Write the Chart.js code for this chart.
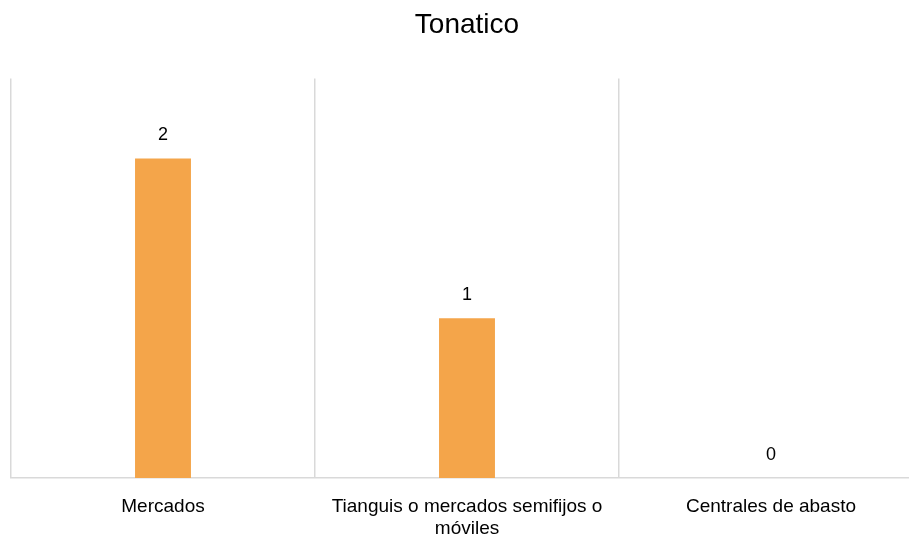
<!DOCTYPE html>
<html>
<head>
<meta charset="utf-8">
<script src="https://cdn.jsdelivr.net/npm/chart.js@4"></script>
<style>
html,body{margin:0;padding:0;overflow:hidden;background:#fff;width:909px;height:542px;}
#wrap{width:932px;height:560px;}
</style>
</head>
<body>
<div id="wrap"><canvas id="c" width="932" height="560"></canvas></div>
<script>
const titleText = "Tonatico";
const categories = [["Mercados"], ["Tianguis o mercados semifijos o", "móviles"], ["Centrales de abasto"]];
const values = [2, 1, 0];
const yMax = 2.5;

const valueLabels = {
  id: 'valueLabels',
  afterDatasetsDraw(chart) {
    const ctx = chart.ctx;
    const meta = chart.getDatasetMeta(0);
    ctx.save();
    ctx.font = '18px "Liberation Sans", Arial, sans-serif';
    ctx.fillStyle = '#000';
    ctx.textAlign = 'center';
    ctx.textBaseline = 'middle';
    meta.data.forEach((bar, i) => {
      ctx.fillText(String(values[i]), bar.x, bar.y - 23);
    });
    ctx.restore();
  }
};

new Chart(document.getElementById('c'), {
  type: 'bar',
  data: {
    labels: categories,
    datasets: [{
      data: values,
      backgroundColor: '#F4A54A',
      borderWidth: 0,
      barPercentage: 0.184,
      categoryPercentage: 1
    }]
  },
  options: {
    responsive: false,
    animation: false,
    layout: { padding: { left: 11, right: 9, top: 0, bottom: 2 } },
    plugins: {
      legend: { display: false },
      tooltip: { enabled: false },
      title: {
        display: true,
        text: titleText,
        color: '#000',
        font: { family: '"Liberation Sans", Arial, sans-serif', size: 28, weight: 'normal', lineHeight: 1.2 },
        padding: { top: 8, bottom: 37 }
      }
    },
    scales: {
      x: {
        grid: { display: true, offset: true, color: '#d9d9d9', lineWidth: 1.5, drawTicks: false },
        border: { display: true, color: '#d9d9d9', width: 1.5 },
        ticks: {
          color: '#000',
          padding: 18,
          maxRotation: 0,
          autoSkip: false,
          font: { family: '"Liberation Sans", Arial, sans-serif', size: 19, lineHeight: 1.16 }
        }
      },
      y: {
        display: false,
        min: 0,
        max: yMax
      }
    }
  },
  plugins: [valueLabels]
});
</script>
</body>
</html>
